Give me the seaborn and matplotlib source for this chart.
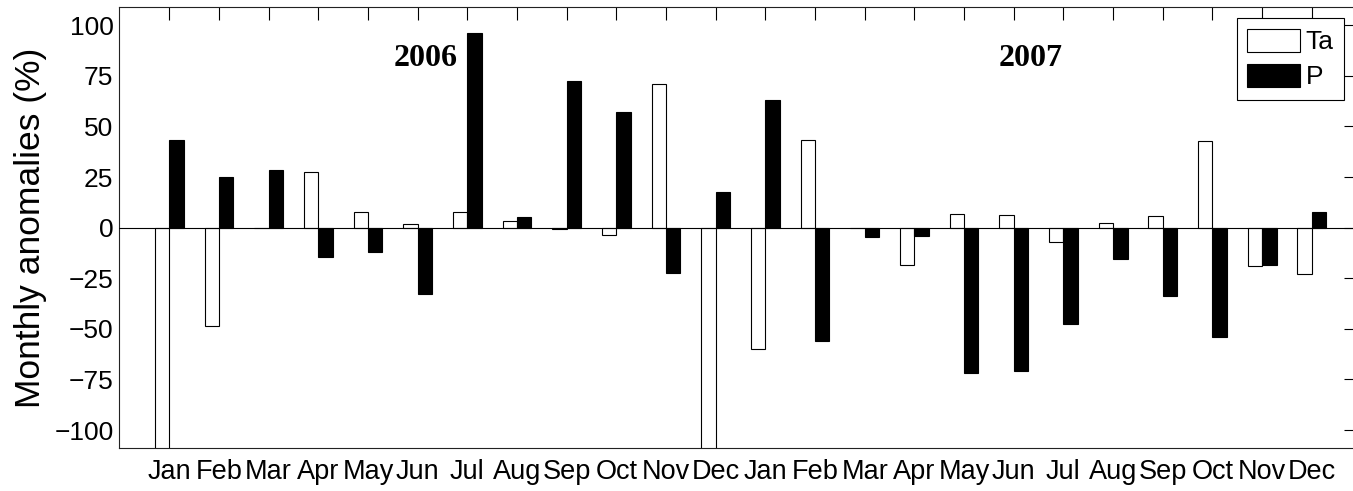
import numpy as np
import pandas as pd
import matplotlib
matplotlib.use("Agg")
import matplotlib.pyplot as plt
from matplotlib.patches import Patch
import seaborn as sns

# Monthly anomalies (%) of air temperature (Ta) and precipitation (P)
months = ["Jan", "Feb", "Mar", "Apr", "May", "Jun",
          "Jul", "Aug", "Sep", "Oct", "Nov", "Dec"]
years = [2006, 2007]

ta_2006 = [-118, -48.6, 0, 27.5, 7.8, 1.7, 7.6, 3.1, -0.8, -3.8, 71.0, -118]
p_2006 = [43.3, 25.2, 28.5, -14.3, -12.2, -33.0, 96.2, 5.3, 72.6, 57.2, -22.2, 17.5]
ta_2007 = [-60.1, 43.3, 0, -18.3, 6.9, 6.3, -7.1, 2.3, 5.8, 43.0, -18.9, -23.0]
p_2007 = [63.1, -56.1, -4.4, -3.9, -71.9, -70.6, -47.4, -15.5, -33.6, -54.0, -18.4, 7.8]

yticks = [-100, -75, -50, -25, 0, 25, 50, 75, 100]

periods = [f"{y}-{i + 1:02d}" for y in years for i in range(12)]
ta_all = ta_2006 + ta_2007
p_all = p_2006 + p_2007
df = pd.DataFrame({
    "period": periods * 2,
    "series": ["Ta"] * len(periods) + ["P"] * len(periods),
    "value": ta_all + p_all,
})

sns.set_style("white")
plt.rcParams["font.family"] = ["Liberation Sans", "DejaVu Sans"]
plt.rcParams["text.color"] = "black"
plt.rcParams["axes.labelcolor"] = "black"

W, H = 1353, 491
fig = plt.figure(figsize=(W / 100, H / 100), dpi=100)
ax = fig.add_axes([119 / W, (H - 448.3) / H, (1355 - 119) / W, (448.3 - 7) / H])

sns.barplot(data=df, x="period", y="value", hue="series",
            order=periods, hue_order=["Ta", "P"],
            palette={"Ta": "white", "P": "black"},
            width=0.58, dodge=True, edgecolor="black", linewidth=0.8,
            saturation=1, errorbar=None, legend=False, ax=ax)

ax.axhline(0, color="black", lw=0.8, zorder=3)

ax.set_xlim(-1.013, 23.87)
ax.set_ylim(-109, 109)
ax.set_xticks(range(len(periods)))
ax.set_xticklabels(months * len(years))
ax.set_yticks(yticks)

ax.tick_params(axis="x", direction="in", top=True, length=9, width=0.8,
               labelsize=19.5, pad=7.5, colors="black")
ax.tick_params(axis="y", direction="in", right=True, length=7.7, width=0.8,
               labelsize=19, pad=4, colors="black")
for s in ax.spines.values():
    s.set_color("#222222")
    s.set_linewidth(0.8)

ax.set_xlabel("")
ax.set_ylabel("Monthly anomalies (%)", fontsize=25.5, color="black")
ax.yaxis.set_label_coords(-0.058, 0.5)

for xpos, yr in [(5.15, "2006"), (17.33, "2007")]:
    ax.text(xpos, 83.5, yr, family=["Liberation Serif", "DejaVu Serif"],
            weight="bold", fontsize=23, ha="center", va="center",
            color="black")

handles = [Patch(facecolor="white", edgecolor="black", lw=0.8, label="Ta"),
           Patch(facecolor="black", edgecolor="black", lw=0.8, label="P")]
leg = ax.legend(handles=handles, loc="upper right",
                bbox_to_anchor=(1344 / W, 1 - 18 / H),
                bbox_transform=fig.transFigure,
                fontsize=19, handlelength=2.0, handleheight=1.0,
                handletextpad=0.2, labelspacing=0.35, borderpad=0.4,
                borderaxespad=0, frameon=True, fancybox=False,
                edgecolor="black", framealpha=1)
leg.get_frame().set_linewidth(0.8)
for t in leg.get_texts():
    t.set_color("black")

fig.savefig("out.png", dpi=100)
